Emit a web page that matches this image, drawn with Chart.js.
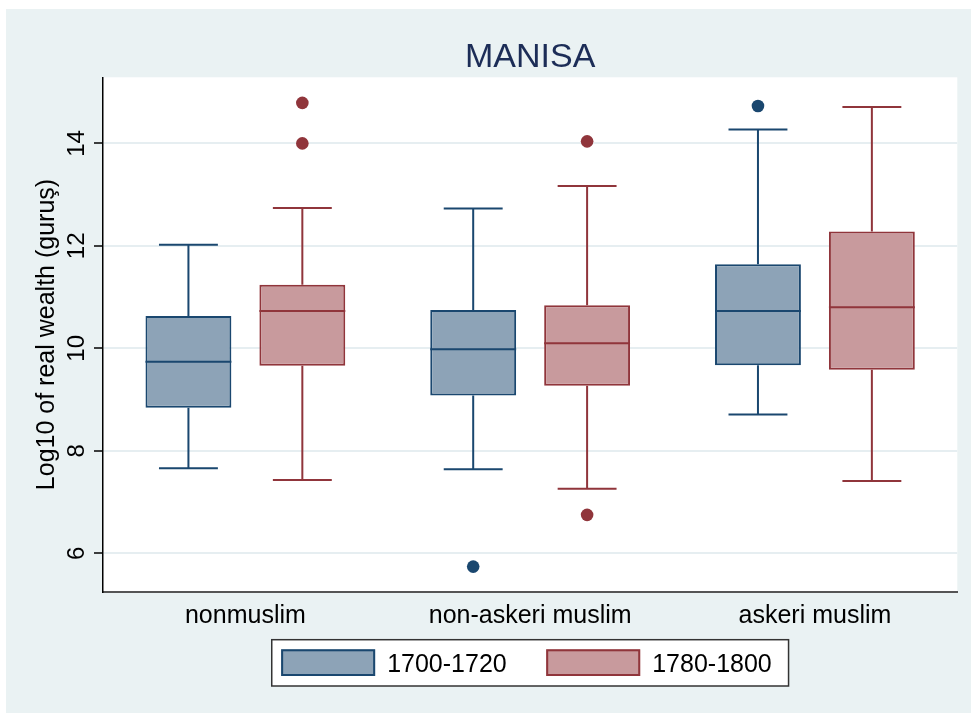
<!DOCTYPE html>
<html>
<head>
<meta charset="utf-8">
<title>MANISA</title>
<script src="https://cdn.jsdelivr.net/npm/chart.js@4.4.1/dist/chart.umd.min.js"></script>
<style>
  html, body { margin: 0; padding: 0; background: #ffffff; }
  #panel { position: absolute; left: 6px; top: 9px; width: 965px; height: 704px; background: #eaf2f3; }
  canvas { display: block; }
</style>
</head>
<body>
<div id="panel"><canvas id="boxChart" width="965" height="704"></canvas></div>
<script>
const chartTitle = 'MANISA';
const yTitle = 'Log10 of real wealth (guruş)';
const categories = ['nonmuslim', 'non-askeri muslim', 'askeri muslim'];
const seriesLabels = ['1700-1720', '1780-1800'];
const yTicks = [6, 8, 10, 12, 14];
const yMin = 5.25;
const yMax = 15.29;

// 1700-1720
const earlyLower = [7.66, 7.64, 8.71];
const earlyQ1 = [8.84, 9.08, 9.67];
const earlyMedian = [9.74, 9.98, 10.73];
const earlyQ3 = [10.63, 10.75, 11.64];
const earlyUpper = [12.02, 12.73, 14.27];
const earlyOutliers = [[], [5.74], [14.73]];

// 1780-1800
const lateLower = [7.43, 7.26, 7.41];
const lateQ1 = [9.66, 9.27, 9.58];
const lateMedian = [10.73, 10.10, 10.80];
const lateQ3 = [11.24, 10.84, 12.28];
const lateUpper = [12.74, 13.17, 14.71];
const lateOutliers = [[14.79, 14.0], [14.04, 6.75], []];

const navy = '#1a476f';
const maroon = '#90353b';
const FONT = '"Liberation Sans", Arial, Helvetica, sans-serif';

const boxStats = [
  { lower: earlyLower, median: earlyMedian, upper: earlyUpper, outliers: earlyOutliers },
  { lower: lateLower, median: lateMedian, upper: lateUpper, outliers: lateOutliers }
];

const makeBox = (label, q1, q3, fill, line) => ({
  label,
  data: q1.map((v, i) => [v, q3[i]]),
  backgroundColor: fill,
  borderColor: line,
  borderWidth: 2,
  borderSkipped: false,
  categoryPercentage: 0.8,
  barPercentage: 0.754
});

// white plot region, whiskers / medians / outliers, text and legend
const boxPlotPlugin = {
  id: 'boxPlot',
  beforeDraw(chart) {
    const { ctx, chartArea: a } = chart;
    ctx.save();
    ctx.fillStyle = '#ffffff';
    ctx.fillRect(a.left, a.top, a.right - a.left, a.bottom - a.top);
    ctx.restore();
  },
  afterDatasetsDraw(chart) {
    const { ctx } = chart;
    const y = chart.scales.y;
    chart.data.datasets.forEach((ds, di) => {
      const stats = boxStats[di];
      const meta = chart.getDatasetMeta(di);
      meta.data.forEach((bar, i) => {
        const x = bar.x;
        const w = bar.width;
        const cap = w * 0.686;
        const yQ1 = y.getPixelForValue(ds.data[i][0]);
        const yQ3 = y.getPixelForValue(ds.data[i][1]);
        const yLo = y.getPixelForValue(stats.lower[i]);
        const yHi = y.getPixelForValue(stats.upper[i]);
        const yMed = y.getPixelForValue(stats.median[i]);
        ctx.save();
        ctx.strokeStyle = ds.borderColor;
        ctx.lineWidth = 2;
        ctx.beginPath();
        ctx.moveTo(x, yQ3); ctx.lineTo(x, yHi);
        ctx.moveTo(x - cap / 2, yHi); ctx.lineTo(x + cap / 2, yHi);
        ctx.moveTo(x, yQ1); ctx.lineTo(x, yLo);
        ctx.moveTo(x - cap / 2, yLo); ctx.lineTo(x + cap / 2, yLo);
        ctx.moveTo(x - w / 2, yMed); ctx.lineTo(x + w / 2, yMed);
        ctx.stroke();
        ctx.fillStyle = ds.borderColor;
        stats.outliers[i].forEach(v => {
          ctx.beginPath();
          ctx.arc(x, y.getPixelForValue(v), 6.3, 0, Math.PI * 2);
          ctx.fill();
        });
        ctx.restore();
      });
    });
  },
  afterDraw(chart) {
    const { ctx, chartArea: a } = chart;
    const y = chart.scales.y;
    const cx = (a.left + a.right) / 2;
    ctx.save();

    // title
    ctx.fillStyle = '#1c2d57';
    ctx.font = '34px ' + FONT;
    ctx.textAlign = 'center';
    ctx.textBaseline = 'alphabetic';
    ctx.fillText(chartTitle, cx, 57.7);

    // rotated y tick labels
    ctx.fillStyle = '#000000';
    ctx.font = '24px ' + FONT;
    y.ticks.forEach(t => {
      ctx.save();
      ctx.translate(77.6, y.getPixelForValue(t.value));
      ctx.rotate(-Math.PI / 2);
      ctx.fillText(String(t.value), 0, 0);
      ctx.restore();
    });

    // legend
    ctx.font = '25px ' + FONT;
    const sw = 94, sh = 26.7, padL = 9.4, padR = 16.8, gap = 12, itemGap = 39.5;
    const widths = chart.data.datasets.map(ds => ctx.measureText(ds.label).width);
    const W = padL + padR + widths.reduce((s, tw) => s + sw + gap + tw, 0) + itemGap * (widths.length - 1);
    const H = 46.3;
    const left = cx - W / 2;
    const top = 630.7;
    ctx.fillStyle = '#ffffff';
    ctx.fillRect(left, top, W, H);
    ctx.strokeStyle = '#333333';
    ctx.lineWidth = 1.5;
    ctx.strokeRect(left, top, W, H);
    let x = left + padL;
    chart.data.datasets.forEach((ds, i) => {
      ctx.fillStyle = ds.backgroundColor;
      ctx.fillRect(x, top + 9.6, sw, sh);
      ctx.strokeStyle = ds.borderColor;
      ctx.lineWidth = 2;
      ctx.strokeRect(x + 1, top + 10.6, sw - 2, sh - 2);
      ctx.fillStyle = '#000000';
      ctx.textAlign = 'left';
      ctx.fillText(ds.label, x + sw + gap, top + H / 2 + 9.2);
      x += sw + gap + widths[i] + itemGap;
    });
    ctx.restore();
  }
};

Chart.defaults.font.family = FONT;
Chart.defaults.color = '#000000';

new Chart(document.getElementById('boxChart'), {
  type: 'bar',
  data: {
    labels: categories,
    datasets: [
      makeBox(seriesLabels[0], earlyQ1, earlyQ3, '#8da3b7', navy),
      makeBox(seriesLabels[1], lateQ1, lateQ3, '#c89a9d', maroon)
    ]
  },
  options: {
    responsive: false,
    animation: false,
    layout: { padding: { left: 0, right: 13.7, top: 68.3, bottom: 0 } },
    plugins: {
      legend: { display: false },
      title: { display: false },
      tooltip: { enabled: false }
    },
    scales: {
      x: {
        afterFit: s => { s.height = 121.3; },
        grid: { display: false, drawTicks: false },
        border: { color: '#555555', width: 2 },
        ticks: { font: { size: 25 }, padding: 9, color: '#000000' }
      },
      y: {
        min: yMin,
        max: yMax,
        afterBuildTicks: s => { s.ticks = yTicks.map(v => ({ value: v })); },
        afterFit: s => { s.width = 97; },
        ticks: { display: false },
        grid: { color: '#e6eef1', lineWidth: 2, tickColor: '#000000', tickLength: 9, tickWidth: 1.5 },
        border: { color: '#000000', width: 1.5 },
        title: {
          display: true,
          text: yTitle,
          font: { size: 25 },
          color: '#000000',
          padding: { top: 25.7, bottom: 0 }
        }
      }
    }
  },
  plugins: [boxPlotPlugin]
});
</script>
</body>
</html>
